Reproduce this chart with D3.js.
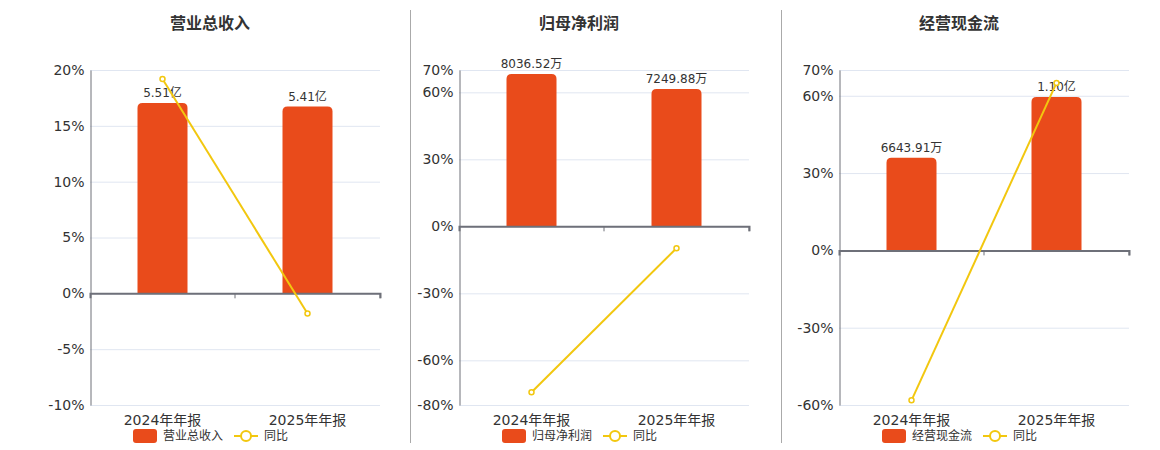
<!DOCTYPE html>
<html>
<head>
<meta charset="utf-8">
<script src="https://d3js.org/d3.v7.min.js"></script>
<style>
body { margin: 0; background: #fff; font-family: "DejaVu Sans", "Noto Sans CJK SC", sans-serif; }
svg { display: block; }
</style>
</head>
<body>
<div id="chart"></div>
<script>
// data
var categories = ["2024年年报", "2025年年报"];
var titles = ["营业总收入", "归母净利润", "经营现金流"];
// bar values in 万元
var revenue = [55100, 54100];
var netProfit = [8036.52, 7249.88];
var cashFlow = [6643.91, 11000];
var revenueLabels = ["5.51亿", "5.41亿"];
var netProfitLabels = ["8036.52万", "7249.88万"];
var cashFlowLabels = ["6643.91万", "1.10亿"];
// 同比 in %
var revenueYoy = [19.2, -1.81];
var netProfitYoy = [-74.3, -9.79];
var cashFlowYoy = [-58.2, 65.0];
// y axis ticks
var revenueTicks = [-10, -5, 0, 5, 10, 15, 20];
var netProfitTicks = [-80, -60, -30, 0, 30, 60, 70];
var cashFlowTicks = [-60, -30, 0, 30, 60, 70];

var barColor = "#E94B1B", lineColor = "#F2C70F";
var W = 1160, H = 450;
var plotTop = 70, plotBottom = 405, plotW = 290;

var panels = [
  {title: titles[0], bars: revenue, labels: revenueLabels, yoy: revenueYoy, ticks: revenueTicks, left: 90, barMax: 64670},
  {title: titles[1], bars: netProfit, labels: netProfitLabels, yoy: netProfitYoy, ticks: netProfitTicks, left: 459, barMax: 8248},
  {title: titles[2], bars: cashFlow, labels: cashFlowLabels, yoy: cashFlowYoy, ticks: cashFlowTicks, left: 839, barMax: 12941}
];

var svg = d3.select("#chart").append("svg").attr("width", W).attr("height", H);

// dividers
[410, 781].forEach(function(x) {
  svg.append("line").attr("x1", x + 0.5).attr("x2", x + 0.5).attr("y1", 10).attr("y2", 443)
    .attr("stroke", "#aaa").attr("stroke-width", 1);
});

function drawPanel(p) {
  var g = svg.append("g");
  var x = d3.scaleBand().domain(categories).range([p.left, p.left + plotW]);
  var y = d3.scaleLinear().domain(d3.extent(p.ticks)).range([plotBottom, plotTop]);
  var yb = d3.scaleLinear().domain([0, p.barMax]).range([y(0), plotTop]);
  var cx = function(d) { return x(d) + x.bandwidth() / 2; };
  var mid = p.left + 120;

  g.append("text").attr("x", mid).attr("y", 23).attr("text-anchor", "middle")
    .attr("dominant-baseline", "central").attr("font-size", 16).attr("font-weight", "bold")
    .attr("fill", "#333").text(p.title);

  // grid
  g.selectAll(".grid").data(p.ticks).enter().append("line")
    .attr("x1", p.left).attr("x2", p.left + plotW)
    .attr("y1", function(d) { return y(d) + 0.5; }).attr("y2", function(d) { return y(d) + 0.5; })
    .attr("stroke", "#E0E6F1");

  // y axis
  var ya = g.append("g").attr("transform", "translate(" + (p.left + 0.5) + ",0)")
    .call(d3.axisLeft(y).tickValues(p.ticks).tickSize(0).tickPadding(6).tickFormat(function(d) { return d + "%"; }));
  ya.select(".domain").attr("stroke", "#6E7079");
  ya.selectAll("text").attr("font-size", 14).attr("fill", "#333").attr("font-family", "DejaVu Sans");

  // bars
  var bw = 50;
  g.selectAll(".bar").data(p.bars).enter().append("path")
    .attr("fill", barColor)
    .attr("d", function(d, i) {
      var x0 = cx(categories[i]) - bw / 2, y0 = yb(d), y1 = y(0), r = 5;
      return "M" + x0 + "," + y1 + "V" + (y0 + r) + "Q" + x0 + "," + y0 + " " + (x0 + r) + "," + y0 +
        "H" + (x0 + bw - r) + "Q" + (x0 + bw) + "," + y0 + " " + (x0 + bw) + "," + (y0 + r) + "V" + y1 + "Z";
    });

  // bar labels
  g.selectAll(".blabel").data(p.bars).enter().append("text")
    .attr("x", function(d, i) { return cx(categories[i]); })
    .attr("y", function(d) { return yb(d) - 6; })
    .attr("text-anchor", "middle").attr("font-size", 12).attr("fill", "#333")
    .text(function(d, i) { return p.labels[i]; });

  // x axis at zero
  var xa = g.append("g").attr("transform", "translate(0," + y(0) + ")")
    .call(d3.axisBottom(x).tickSize(5).tickFormat(""));
  xa.select(".domain").attr("stroke", "#6E7079").attr("stroke-width", 2);
  xa.selectAll(".tick").remove();
  [p.left + x.bandwidth(), p.left + plotW].forEach(function(t) {
    xa.append("line").attr("x1", t).attr("x2", t).attr("y1", 0).attr("y2", 5).attr("stroke", "#6E7079");
  });

  // x labels
  g.selectAll(".xl").data(categories).enter().append("text")
    .attr("x", cx).attr("y", 420).attr("text-anchor", "middle").attr("dominant-baseline", "central")
    .attr("font-size", 14).attr("fill", "#333").text(function(d) { return d; });

  // yoy line
  var line = d3.line().x(function(d, i) { return cx(categories[i]); }).y(function(d) { return y(d); });
  g.append("path").datum(p.yoy).attr("d", line).attr("fill", "none")
    .attr("stroke", lineColor).attr("stroke-width", 2);
  g.selectAll(".pt").data(p.yoy).enter().append("circle")
    .attr("cx", function(d, i) { return cx(categories[i]); }).attr("cy", function(d) { return y(d); })
    .attr("r", 2.5).attr("fill", "#fff").attr("stroke", lineColor).attr("stroke-width", 1.5);

  // legend
  var lx = mid - 77;
  var lg = g.append("g").attr("transform", "translate(" + lx + ",436)");
  lg.append("rect").attr("x", 0).attr("y", -7).attr("width", 24).attr("height", 14).attr("rx", 3).attr("fill", barColor);
  var t1 = lg.append("text").attr("x", 30).attr("y", 0).attr("dominant-baseline", "central")
    .attr("font-size", 12).attr("fill", "#333").text(p.title);
  var off = 30 + t1.node().getComputedTextLength() + 11;
  lg.append("line").attr("x1", off).attr("x2", off + 24).attr("y1", 0).attr("y2", 0)
    .attr("stroke", lineColor).attr("stroke-width", 2);
  lg.append("circle").attr("cx", off + 12).attr("cy", 0).attr("r", 5).attr("fill", "#fff")
    .attr("stroke", lineColor).attr("stroke-width", 2);
  lg.append("text").attr("x", off + 30).attr("y", 0).attr("dominant-baseline", "central")
    .attr("font-size", 12).attr("fill", "#333").text("同比");
}

panels.forEach(drawPanel);
</script>
</body>
</html>
